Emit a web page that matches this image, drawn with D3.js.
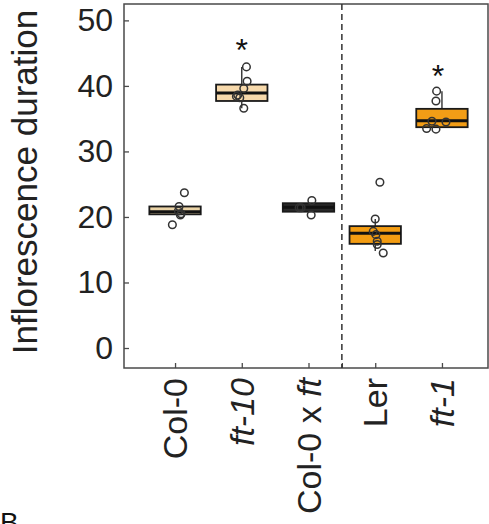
<!DOCTYPE html>
<html>
<head>
<meta charset="utf-8">
<script src="https://cdn.jsdelivr.net/npm/d3@7"></script>
<style>
  body { margin: 0; background: #fff; }
  svg { font-family: "Liberation Sans", Arial, sans-serif; }
</style>
</head>
<body>
<div id="chart"></div>
<script>
// genotypes (index = position on x axis)
const categories = ['Col-0', 'ft-10', 'Col-0 x ft', 'Ler', 'ft-1'];
// label pieces, italic flag per piece
const labelParts = [
  [['Col-0', false]],
  [['ft-10', true]],
  [['Col-0 x ', false], ['ft', true]],
  [['Ler', false]],
  [['ft-1', true]]
];
// box statistics
const q1 = [20.4, 37.7, 20.8, 15.9, 33.7];
const medians = [20.8, 38.9, 21.5, 17.5, 34.7];
const q3 = [21.6, 40.2, 22.1, 18.6, 36.5];
const whiskerLow = [20.4, 36.6, 20.8, 14.8, 33.7];
const whiskerHigh = [21.6, 42.9, 22.1, 19.7, 39.2];
const boxColors = ['#ead3a6', '#f7d9ab', '#2a2a2a', '#f39c12', '#f29d16'];
// individual plants: value and horizontal jitter (in category units)
const pointValues = [
  [23.7, 21.6, 20.9, 20.5, 20.3, 18.8],
  [42.9, 40.7, 39.6, 38.6, 38.4, 38.2, 36.6],
  [22.5, 21.4, 21.4, 20.3],
  [25.3, 19.7, 17.8, 17.3, 16.3, 15.8, 14.5],
  [39.2, 37.7, 34.6, 34.5, 33.5, 33.4]
];
const pointJitter = [
  [0.14, 0.06, 0.05, 0.09, 0.08, -0.04],
  [0.07, 0.08, 0.03, -0.06, -0.08, -0.03, 0.03],
  [0.05, -0.14, -0.11, 0.04],
  [0.07, 0, -0.03, 0.01, 0.03, 0.03, 0.12],
  [-0.08, -0.09, -0.15, 0.06, -0.23, -0.09]
];
// significance stars
const starValues = [null, 46.6, null, null, 42.6];
const starShift = [0, 0, 0, 0, -0.06];
const yTicks = [0, 10, 20, 30, 40, 50];
const dividerAt = 2.5;

const dimension = { width: 489, height: 524 };
const plot = { left: 124, right: 488, top: 4, bottom: 368 };

const svg = d3.select('#chart')
  .append('svg')
  .attr('width', dimension.width)
  .attr('height', dimension.height);

const x = d3.scaleLinear()
  .domain([-0.765, 4.69])
  .range([plot.left, plot.right]);
const y = d3.scaleLinear()
  .domain([-3.05, 52.5])
  .range([plot.bottom, plot.top]);

const boxHalf = 0.385;

// frame
svg.append('rect')
  .attr('x', plot.left)
  .attr('y', plot.top)
  .attr('width', plot.right - plot.left)
  .attr('height', plot.bottom - plot.top)
  .attr('fill', 'none')
  .attr('stroke', '#4a4a4a')
  .attr('stroke-width', 1.5);

// y axis
const yAxis = svg.append('g')
  .attr('transform', `translate(${plot.left},0)`)
  .call(d3.axisLeft(y).tickValues(yTicks).tickSizeInner(-5).tickSizeOuter(0).tickPadding(11));
yAxis.select('.domain').remove();
yAxis.selectAll('line').attr('stroke', '#4a4a4a').attr('stroke-width', 1.3);
yAxis.selectAll('text')
  .attr('font-size', 32)
  .attr('font-family', '"Liberation Sans", Arial, sans-serif')
  .attr('fill', '#222');

// x axis ticks (labels added by hand for the italics)
const xAxis = svg.append('g')
  .attr('transform', `translate(0,${plot.bottom})`)
  .call(d3.axisBottom(x).tickValues([0, 1, 2, dividerAt, 3, 4]).tickSizeInner(-5).tickSizeOuter(0).tickFormat(''));
xAxis.select('.domain').remove();
xAxis.selectAll('line').attr('stroke', '#4a4a4a').attr('stroke-width', 1.3);

// divider between the two backgrounds
svg.append('line')
  .attr('x1', x(dividerAt))
  .attr('x2', x(dividerAt))
  .attr('y1', plot.top)
  .attr('y2', plot.bottom)
  .attr('stroke', '#333')
  .attr('stroke-width', 1.5)
  .attr('stroke-dasharray', '6,4');

// x labels
const xLabels = svg.append('g');
categories.forEach((c, i) => {
  const t = xLabels.append('text')
    .attr('transform', `translate(${x(i) + 12},${plot.bottom + 10}) rotate(-90)`)
    .attr('text-anchor', 'end')
    .attr('font-size', 34)
    .attr('fill', '#222');
  labelParts[i].forEach(p => {
    t.append('tspan')
      .attr('font-style', p[1] ? 'italic' : 'normal')
      .text(p[0]);
  });
});

// y label
svg.append('text')
  .attr('transform', `translate(37,${(plot.top + plot.bottom) / 2 - 4}) rotate(-90)`)
  .attr('text-anchor', 'middle')
  .attr('font-size', 35)
  .attr('fill', '#222')
  .text('Inflorescence duration');

// boxes
const boxes = svg.append('g');
categories.forEach((c, i) => {
  const g = boxes.append('g');
  g.append('line')
    .attr('x1', x(i)).attr('x2', x(i))
    .attr('y1', y(whiskerLow[i])).attr('y2', y(q1[i]))
    .attr('stroke', '#222').attr('stroke-width', 1.3);
  g.append('line')
    .attr('x1', x(i)).attr('x2', x(i))
    .attr('y1', y(q3[i])).attr('y2', y(whiskerHigh[i]))
    .attr('stroke', '#222').attr('stroke-width', 1.3);
  g.append('rect')
    .attr('x', x(i - boxHalf))
    .attr('y', y(q3[i]))
    .attr('width', x(i + boxHalf) - x(i - boxHalf))
    .attr('height', y(q1[i]) - y(q3[i]))
    .attr('fill', boxColors[i])
    .attr('stroke', '#1a1a1a')
    .attr('stroke-width', 1.8);
  g.append('line')
    .attr('x1', x(i - boxHalf)).attr('x2', x(i + boxHalf))
    .attr('y1', y(medians[i])).attr('y2', y(medians[i]))
    .attr('stroke', '#111')
    .attr('stroke-width', 3);
});

// points
const points = svg.append('g');
pointValues.forEach((vals, i) => {
  vals.forEach((v, j) => {
    points.append('circle')
      .attr('cx', x(i + pointJitter[i][j]))
      .attr('cy', y(v))
      .attr('r', 3.8)
      .attr('fill', 'none')
      .attr('stroke', '#333')
      .attr('stroke-width', 1.5);
  });
});

// stars
starValues.forEach((v, i) => {
  if (v === null) return;
  svg.append('text')
    .attr('x', x(i + starShift[i]))
    .attr('y', y(v))
    .attr('dy', '0.58em')
    .attr('text-anchor', 'middle')
    .attr('font-size', 32)
    .attr('fill', '#111')
    .text('*');
});

// panel letter of the next figure, partly cut by the crop
svg.append('text')
  .attr('x', 0)
  .attr('y', 532)
  .attr('font-size', 28)
  .attr('fill', '#111')
  .text('B');
</script>
</body>
</html>
